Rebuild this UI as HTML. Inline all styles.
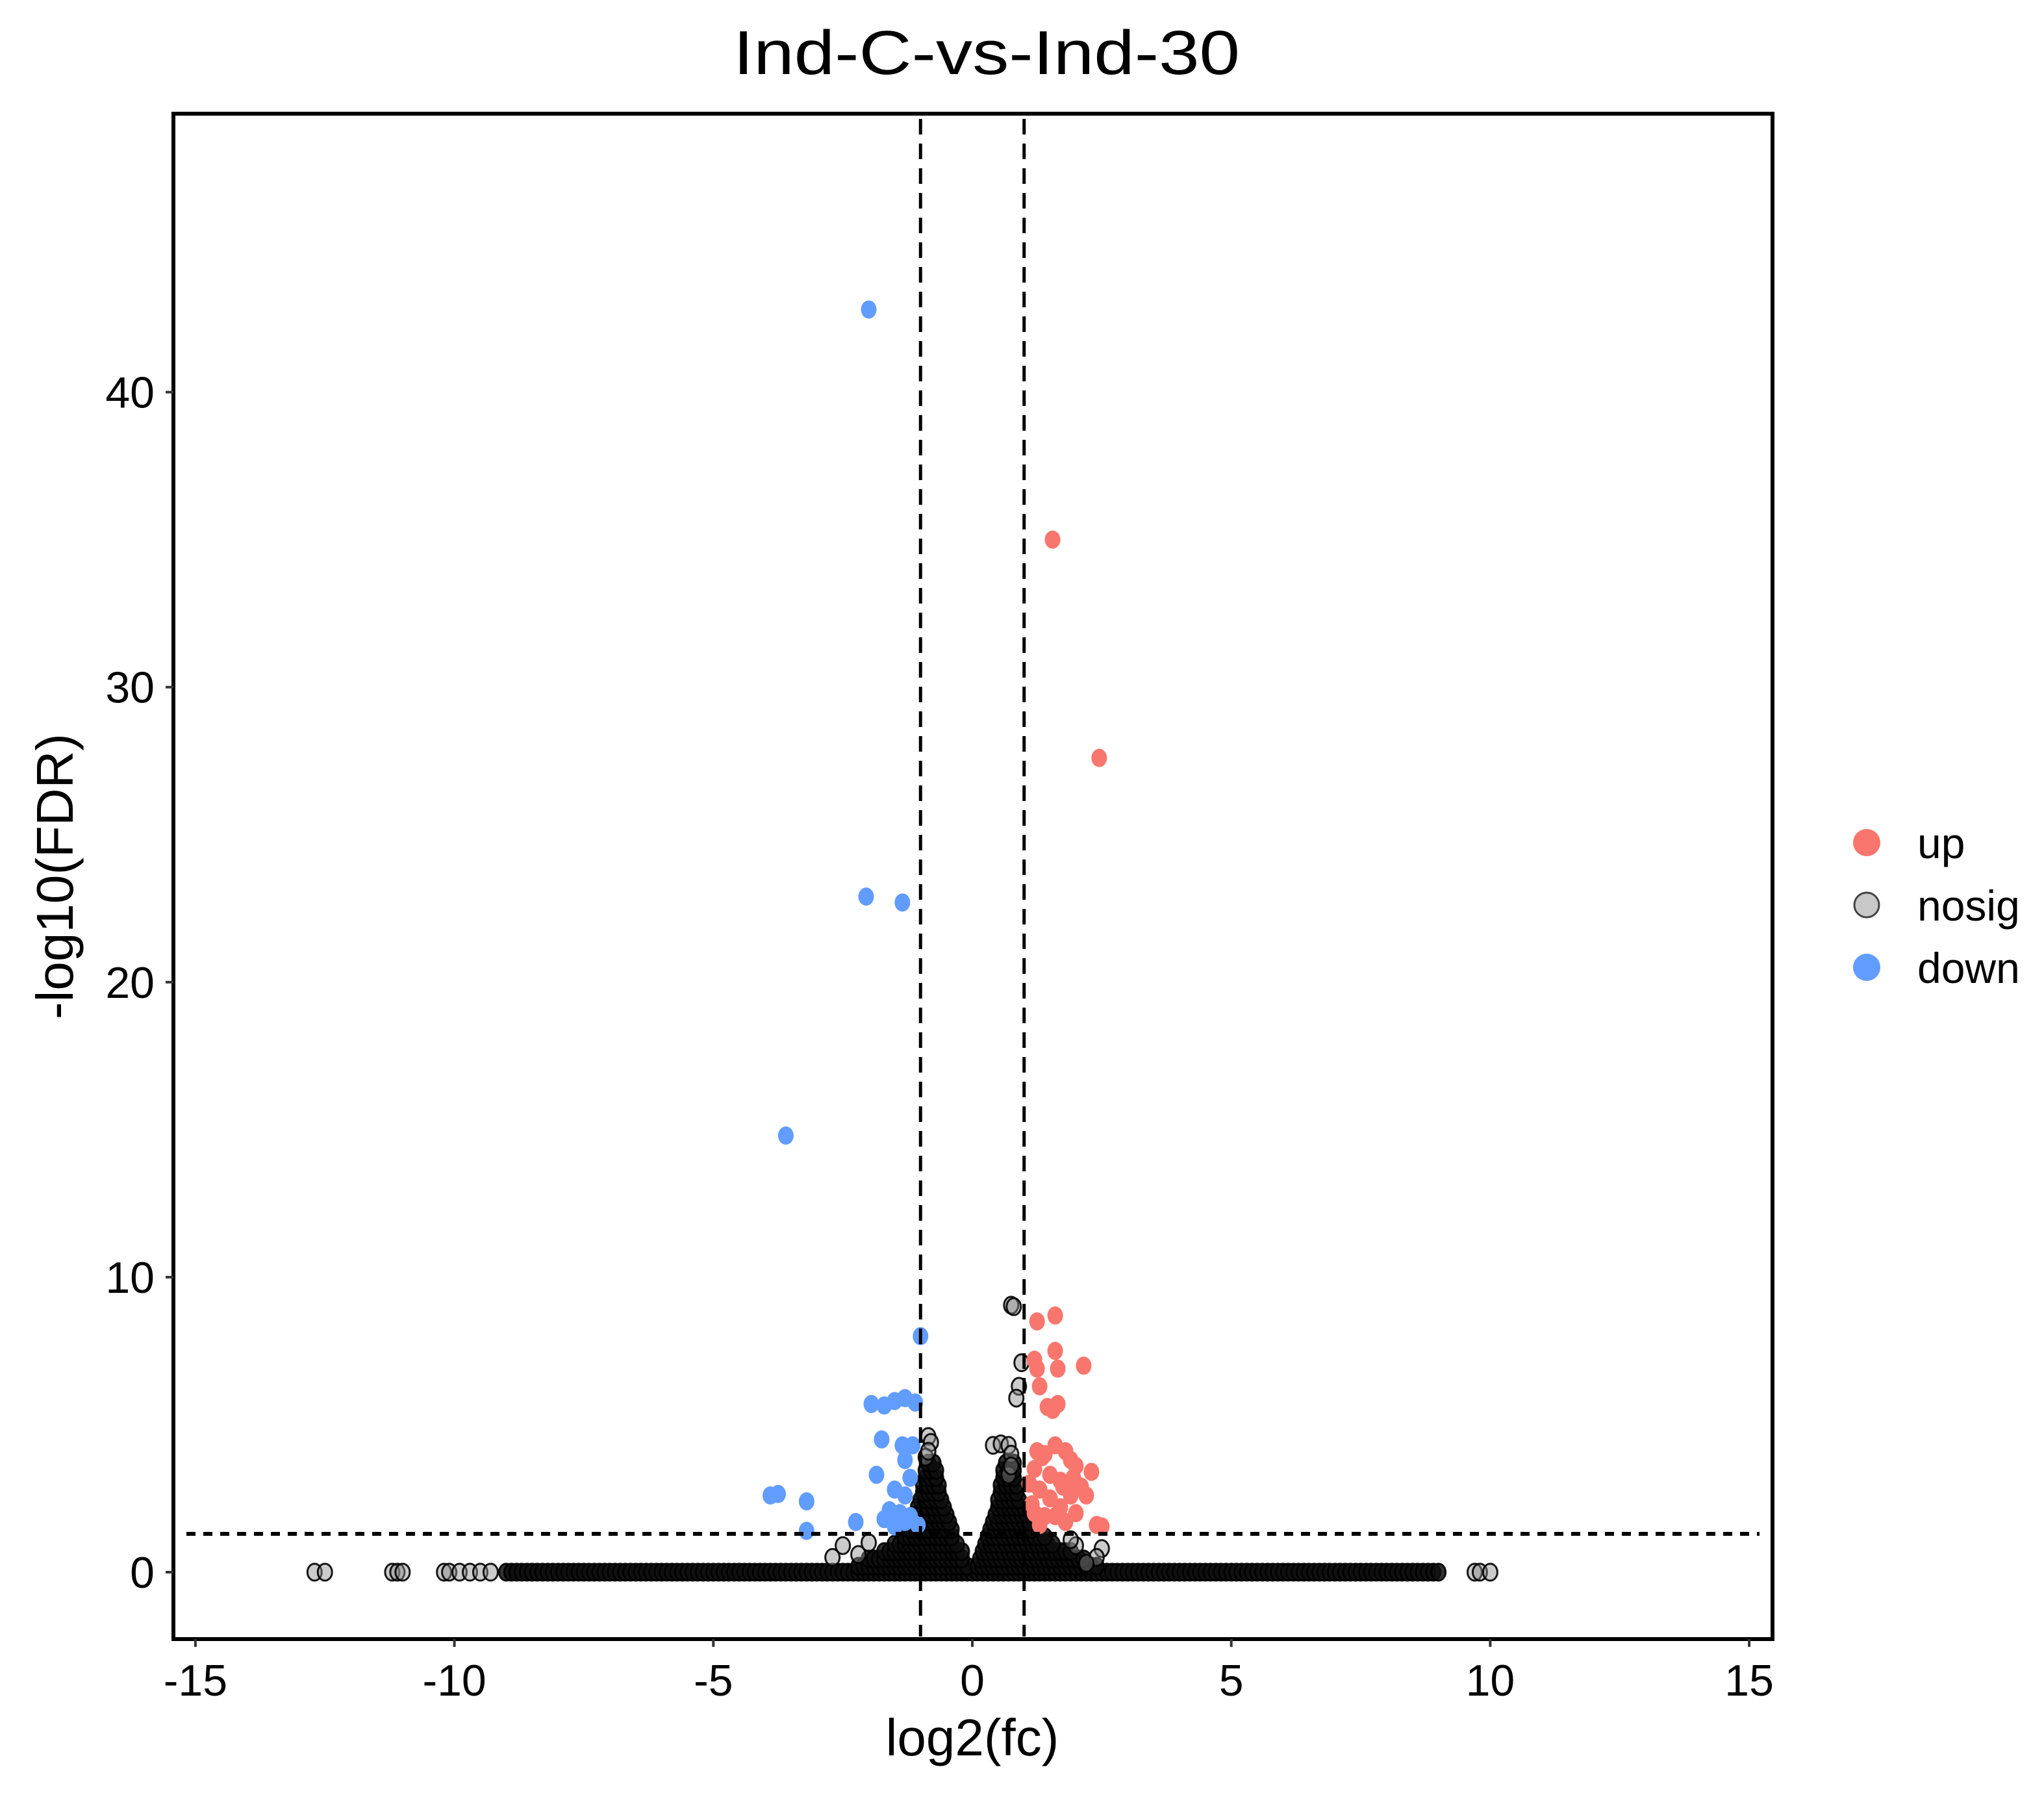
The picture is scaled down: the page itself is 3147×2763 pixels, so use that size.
<!DOCTYPE html>
<html><head><meta charset="utf-8"><style>html,body{margin:0;padding:0;background:#fff}svg{display:block}</style></head>
<body>
<svg id="chart" xmlns="http://www.w3.org/2000/svg" width="3147" height="2763" viewBox="0 0 3147 2763" font-family="Liberation Sans, Arial, sans-serif">
<rect x="0" y="0" width="3147" height="2763" fill="#fff"/>
<text x="1519" y="114" font-size="96" text-anchor="middle" textLength="780" lengthAdjust="spacingAndGlyphs">Ind-C-vs-Ind-30</text>
<g id="marks"></g>
<g id="axes"></g>
<text x="1497" y="2702" font-size="80" text-anchor="middle">log2(fc)</text>
<text transform="translate(112,1349) rotate(-90)" font-size="80" text-anchor="middle">-log10(FDR)</text>
<g>
<g><circle cx="2874" cy="1297" r="21" fill="#F8766D"/><text x="2952" y="1321" font-size="66">up</text></g>
<g><circle cx="2874" cy="1393" r="19" fill="#c8c8c8" stroke="#444" stroke-width="3"/><text x="2952" y="1417" font-size="66">nosig</text></g>
<g><circle cx="2874" cy="1489" r="21" fill="#619CFF"/><text x="2952" y="1513" font-size="66">down</text></g>
</g>
</svg>
<script>
const xTicks = [-15, -10, -5, 0, 5, 10, 15];
const yTicks = [0, 10, 20, 30, 40];
const fcThreshold = [-1, 1];
const fdrThreshold = 1.3;
const upPts = [[1.55,35],[2.45,27.6],[1.6,8.7],[1.25,8.5],[1.6,7.5],[1.2,7.2],[1.25,6.9],[1.65,6.9],[2.15,7.0],[1.3,6.3],[1.45,5.6],[1.65,5.7],[1.55,5.5],
[1.6,4.3],[1.8,4.1],[1.4,4.0],[2.0,3.6],[1.2,3.5],[1.5,3.3],[2.3,3.4],[1.7,3.1],[2.1,2.9],[1.3,2.8],[1.9,2.6],[1.5,2.5],[2.2,2.6],[1.15,2.3],[1.7,2.2],[2.0,2.0],[1.4,1.9],[1.3,1.6],[1.8,1.7],[2.4,1.6],[2.5,1.55],[1.2,2.0],[1.6,1.9],[1.9,3.8],[1.35,3.9],[1.75,2.9],[1.1,3.0],[1.25,4.1],[1.95,3.2]];
const downPts = [[-2.0,42.8],[-2.05,22.9],[-1.35,22.7],[-3.6,14.8],[-1.0,8.0],[-1.95,5.7],[-1.7,5.65],[-1.5,5.8],[-1.3,5.9],[-1.1,5.75],[-1.75,4.5],[-1.35,4.3],[-1.15,4.3],[-1.3,3.8],[-1.85,3.3],[-1.2,3.2],[-1.5,2.8],[-1.3,2.6],[-3.9,2.6],[-3.75,2.65],[-3.2,2.4],[-1.6,2.1],[-1.4,2.0],[-1.2,1.9],[-1.7,1.8],[-1.3,1.7],[-2.25,1.7],[-3.2,1.4],[-1.05,1.6],[-1.5,1.55]];
const nosigPts = [[0.75,9.05],[0.8,9.0],[0.95,7.1],[0.9,6.3],[0.85,5.9],[-0.85,4.6],[-0.8,4.4],[0.4,4.3],[0.55,4.35],[0.7,4.3],[0.75,4.0],[-2.7,0.5],[-2.5,0.9],[2.0,0.9],[2.5,0.8],[2.4,0.5],[1.9,1.1],[2.2,0.3],[-2.2,0.6],[-2.0,1.0],[0.7,3.3],[0.75,3.6],[-0.9,3.9],[-0.85,4.1]];
const coneRows = [
[0.2,[-2.2,-2.1,-2.0,-1.9,-1.8,-1.7,-1.6,-1.5,-1.4,-1.3,-1.2,-1.1,-1.0,-0.9,-0.8,-0.7,-0.6,-0.5,-0.4,-0.3,-0.2,-0.1,0.1,0.2,0.3,0.4,0.5,0.6,0.7,0.8,0.9,1.0,1.1,1.2,1.3,1.4,1.5,1.6,1.7,1.8,1.9,2.0,2.1,2.2,2.3,2.4]],
[0.45,[-2.0,-1.9,-1.8,-1.7,-1.6,-1.5,-1.4,-1.3,-1.2,-1.1,-1.0,-0.9,-0.8,-0.7,-0.6,-0.5,-0.4,-0.3,-0.2,0.15,0.25,0.35,0.45,0.55,0.65,0.75,0.85,0.95,1.05,1.15,1.25,1.35,1.45,1.55,1.65,1.75,1.85,1.95,2.05,2.15]],
[0.7,[-1.7,-1.6,-1.5,-1.4,-1.3,-1.2,-1.1,-1.0,-0.9,-0.8,-0.7,-0.6,-0.5,-0.4,-0.3,-0.2,0.2,0.3,0.4,0.5,0.6,0.7,0.8,0.9,1.0,1.1,1.2,1.3,1.4,1.5,1.6,1.7,1.8,1.9]],
[0.95,[-1.5,-1.4,-1.3,-1.2,-1.1,-1.0,-0.9,-0.8,-0.7,-0.6,-0.5,-0.4,-0.3,0.25,0.35,0.45,0.55,0.65,0.75,0.85,0.95,1.05,1.15,1.25,1.35,1.45,1.55]],
[1.2,[-1.3,-1.2,-1.1,-1.0,-0.9,-0.8,-0.7,-0.6,-0.5,-0.4,0.3,0.4,0.5,0.6,0.7,0.8,0.9,1.0,1.1,1.2,1.3,1.4]],
[1.45,[-1.2,-1.1,-1.0,-0.9,-0.8,-0.7,-0.6,-0.5,-0.4,0.35,0.45,0.55,0.65,0.75,0.85,0.95,1.05,1.15]],
[1.7,[-1.15,-1.05,-0.95,-0.85,-0.75,-0.65,-0.55,-0.45,0.4,0.5,0.6,0.7,0.8,0.9,1.0,1.1]],
[1.95,[-1.1,-1.0,-0.9,-0.8,-0.7,-0.6,-0.5,0.45,0.55,0.65,0.75,0.85,0.95,1.05]],
[2.2,[-1.05,-0.95,-0.85,-0.75,-0.65,-0.55,0.5,0.6,0.7,0.8,0.9,1.0]],
[2.45,[-1.0,-0.9,-0.8,-0.7,-0.6,0.5,0.6,0.7,0.8,0.9]],
[2.7,[-0.95,-0.85,-0.75,-0.65,0.55,0.65,0.75,0.85]],
[2.95,[-0.95,-0.85,-0.75,-0.65,0.55,0.65,0.75,0.85]],
[3.2,[-0.9,-0.8,-0.7,0.6,0.7,0.8]],
[3.45,[-0.9,-0.8,-0.7,0.6,0.7,0.8]],
[3.7,[-0.85,-0.75,0.65,0.8]]];
const bandX = [-12.7,-12.5,-11.2,-11.1,-11.0,-10.2,-10.1,-9.9,-9.7,-9.5,-9.3,
-9.0,-8.9,-8.8,-8.7,-8.6,-8.5,-8.4,-8.3,-8.2,-8.1,-8.0,-7.9,-7.8,-7.7,-7.6,-7.5,-7.4,-7.3,-7.2,-7.1,-7.0,-6.9,-6.8,-6.7,-6.6,-6.5,-6.4,-6.3,-6.2,-6.1,-6.0,-5.9,-5.8,-5.7,-5.6,-5.5,-5.4,-5.3,-5.2,-5.1,-5.0,-4.9,-4.8,-4.7,-4.6,-4.5,-4.4,-4.3,-4.2,-4.1,-4.0,-3.9,-3.8,-3.7,-3.6,-3.5,-3.4,-3.3,-3.2,-3.1,-3.0,-2.9,-2.8,-2.7,-2.6,-2.5,-2.4,-2.3,-2.2,-2.1,-2.0,-1.9,-1.8,-1.7,-1.6,-1.5,-1.4,-1.3,-1.2,-1.1,-1.0,-0.9,-0.8,-0.7,-0.6,-0.5,-0.4,-0.3,-0.2,-0.1,0.0,
0.1,0.2,0.3,0.4,0.5,0.6,0.7,0.8,0.9,1.0,1.1,1.2,1.3,1.4,1.5,1.6,1.7,1.8,1.9,2.0,2.1,2.2,2.3,2.4,2.5,2.6,2.7,2.8,2.9,3.0,3.1,3.2,3.3,3.4,3.5,3.6,3.7,3.8,3.9,4.0,4.1,4.2,4.3,4.4,4.5,4.6,4.7,4.8,4.9,5.0,5.1,5.2,5.3,5.4,5.5,5.6,5.7,5.8,5.9,6.0,6.1,6.2,6.3,6.4,6.5,6.6,6.7,6.8,6.9,7.0,7.1,7.2,7.3,7.4,7.5,7.6,7.7,7.8,7.9,8.0,8.1,8.2,8.3,8.4,8.5,8.6,8.7,8.8,8.9,9.0,
9.7,9.8,10.0];

const L=267,R=2729,T=175,B=2523;
const X0=1497,XU=79.74,Y0=2420,YU=45.41;
const sx=v=>X0+v*XU, sy=v=>Y0-v*YU;
const NS='http://www.w3.org/2000/svg';
const marks=document.getElementById('marks'), axes=document.getElementById('axes');
function mk(tag,attrs,parent){const e=document.createElementNS(NS,tag);for(const k in attrs)e.setAttribute(k,attrs[k]);parent.appendChild(e);return e;}
const nsFill='rgba(140,140,140,0.45)', nsDense='rgba(15,15,15,0.85)', nsStroke='rgba(0,0,0,0.9)';

bandX.forEach(x=>{
  const c=mk('ellipse',{cx:sx(x),cy:sy(0),rx:11,ry:13,fill:Math.abs(x)<=9?nsDense:nsFill,stroke:nsStroke,'stroke-width':3},marks);
  
  
});
coneRows.forEach(row=>{
  row[1].forEach(x=>{
    const c=mk('ellipse',{cx:sx(x),cy:sy(row[0]),rx:11,ry:13,fill:nsDense,stroke:nsStroke,'stroke-width':3},marks);
    
    
  });
});
nosigPts.forEach(p=>{
  const c=mk('ellipse',{cx:sx(p[0]),cy:sy(p[1]),rx:11,ry:13,fill:nsFill,stroke:nsStroke,'stroke-width':3},marks);
  
  
});
upPts.forEach(p=>{
  const c=mk('ellipse',{cx:sx(p[0]),cy:sy(p[1]),rx:12,ry:14,fill:'#F8766D'},marks);
  
  
});
downPts.forEach(p=>{
  const c=mk('ellipse',{cx:sx(p[0]),cy:sy(p[1]),rx:12,ry:14,fill:'#619CFF'},marks);
  
  
});
fcThreshold.forEach(v=>{
  const l=mk('line',{x1:sx(v),x2:sx(v),y1:T+8,y2:B-4,stroke:'#000','stroke-width':5,'stroke-dasharray':'24 14'},marks);
  
  
});
const hl=mk('line',{x1:L+20,x2:R-20,y1:sy(fdrThreshold),y2:sy(fdrThreshold),stroke:'#000','stroke-width':6,'stroke-dasharray':'14 12'},marks);



const frame=mk('rect',{x:L,y:T,width:R-L,height:B-T,fill:'none',stroke:'#000','stroke-width':6},axes);


xTicks.forEach(v=>{
  const t=mk('line',{x1:sx(v),x2:sx(v),y1:B,y2:B+12,stroke:'#333','stroke-width':4},axes);
  
  
  const lb=mk('text',{x:sx(v),y:2610,'font-size':68,'text-anchor':'middle'},axes);
  lb.textContent=String(v);
  
  
});
yTicks.forEach(v=>{
  const t=mk('line',{x1:L-12,x2:L,y1:sy(v),y2:sy(v),stroke:'#333','stroke-width':4},axes);
  
  
  const lb=mk('text',{x:238,y:sy(v)+24,'font-size':68,'text-anchor':'end'},axes);
  lb.textContent=String(v);
  
  
});
</script>
</body></html>
